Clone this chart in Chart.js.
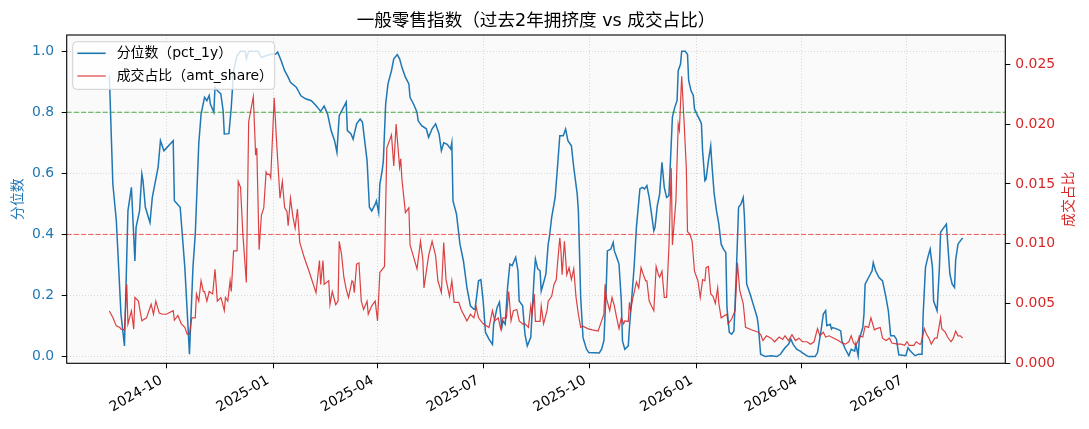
<!DOCTYPE html>
<html>
<head>
<meta charset="utf-8">
<script src="https://cdn.jsdelivr.net/npm/chart.js@4.4.1/dist/chart.umd.min.js"></script>
<style>
html,body{margin:0;padding:0;background:#fff;overflow:hidden}
#wrap{width:1089px;height:429px;position:relative}
</style>
</head>
<body>
<div id="wrap"><canvas id="c" width="1089" height="429"></canvas></div>
<script>
const chartTitle = '一般零售指数（过去2年拥挤度 vs 成交占比）';
const pctLabel = '分位数（pct_1y）';
const amtLabel = '成交占比（amt_share）';
const leftAxisTitle = '分位数';
const rightAxisTitle = '成交占比';

const xTickDates = ['2024-10-01','2025-01-01','2025-04-01','2025-07-01','2025-10-01','2026-01-01','2026-04-01','2026-07-01'];
const xTickLabels = ['2024-10','2025-01','2025-04','2025-07','2025-10','2026-01','2026-04','2026-07'];
const leftTicks = [0, 0.2, 0.4, 0.6, 0.8, 1.0];
const rightTicks = [0, 0.005, 0.010, 0.015, 0.020, 0.025];
const refHigh = 0.8;
const refLow = 0.4;

const pctDates = [
'2024-08-13','2024-08-16','2024-08-19','2024-08-23','2024-08-26','2024-08-29','2024-09-01','2024-09-04','2024-09-05','2024-09-08',
'2024-09-10','2024-09-11','2024-09-13','2024-09-17','2024-09-19','2024-09-24','2024-09-26','2024-09-29','2024-10-07','2024-10-08',
'2024-10-13','2024-10-17','2024-10-21','2024-10-24','2024-10-26','2024-10-29','2024-10-31','2024-11-03','2024-11-05','2024-11-07',
'2024-11-08','2024-11-11','2024-11-12','2024-11-14','2024-11-17','2024-11-19','2024-11-20','2024-11-24','2024-11-26','2024-11-28',
'2024-12-01','2024-12-04','2024-12-08','2024-12-09','2024-12-11','2024-12-19','2024-12-22','2024-12-26','2024-12-30','2025-01-03',
'2025-01-05','2025-01-08','2025-01-11','2025-01-14','2025-01-16','2025-01-21','2025-01-25','2025-01-29','2025-02-03','2025-02-07',
'2025-02-11','2025-02-14','2025-02-17','2025-02-20','2025-02-23','2025-02-25','2025-02-27','2025-03-02','2025-03-05','2025-03-06',
'2025-03-09','2025-03-11','2025-03-12','2025-03-14','2025-03-17','2025-03-19','2025-03-23','2025-03-25','2025-03-27','2025-03-30',
'2025-03-31','2025-04-02','2025-04-03','2025-04-05','2025-04-06','2025-04-08','2025-04-10','2025-04-13','2025-04-15','2025-04-18',
'2025-04-20','2025-04-22','2025-04-25','2025-04-28','2025-04-29','2025-05-02','2025-05-05','2025-05-06','2025-05-09','2025-05-13',
'2025-05-15','2025-05-18','2025-05-21','2025-05-24','2025-05-26','2025-05-28','2025-05-31','2025-06-03','2025-06-04','2025-06-05',
'2025-06-08','2025-06-11','2025-06-14','2025-06-17','2025-06-20','2025-06-23','2025-06-24','2025-06-27','2025-06-29','2025-07-01',
'2025-07-03','2025-07-06','2025-07-09','2025-07-10','2025-07-13','2025-07-15','2025-07-17','2025-07-18','2025-07-20','2025-07-22',
'2025-07-24','2025-07-26','2025-07-29','2025-07-31','2025-08-01','2025-08-04','2025-08-06','2025-08-08','2025-08-11','2025-08-14',
'2025-08-15','2025-08-17','2025-08-19','2025-08-20','2025-08-22','2025-08-24','2025-08-26','2025-08-27','2025-08-29','2025-09-01',
'2025-09-03','2025-09-05','2025-09-08','2025-09-10','2025-09-12','2025-09-15','2025-09-17','2025-09-20','2025-09-21','2025-09-23',
'2025-09-25','2025-09-28','2025-09-30','2025-10-09','2025-10-11','2025-10-13','2025-10-15','2025-10-16','2025-10-19','2025-10-21',
'2025-10-22','2025-10-24','2025-10-26','2025-10-28','2025-10-29','2025-10-31','2025-11-03','2025-11-04','2025-11-06','2025-11-08',
'2025-11-10','2025-11-13','2025-11-15','2025-11-17','2025-11-19','2025-11-21','2025-11-23','2025-11-25','2025-11-26','2025-11-28',
'2025-11-30','2025-12-02','2025-12-04','2025-12-06','2025-12-08','2025-12-11','2025-12-13','2025-12-15','2025-12-16','2025-12-18',
'2025-12-19','2025-12-22','2025-12-24','2025-12-25','2025-12-27','2025-12-29','2025-12-30','2026-01-01','2026-01-04','2026-01-05',
'2026-01-06','2026-01-08','2026-01-09','2026-01-11','2026-01-13','2026-01-14','2026-01-16','2026-01-18','2026-01-20','2026-01-22',
'2026-01-24','2026-01-26','2026-01-27','2026-01-29','2026-01-31','2026-02-02','2026-02-04','2026-02-06','2026-02-08','2026-02-10',
'2026-02-11','2026-02-13','2026-02-16','2026-02-19','2026-02-22','2026-02-23','2026-02-25','2026-03-01','2026-03-06','2026-03-11',
'2026-03-14','2026-03-18','2026-03-21','2026-03-23','2026-03-25','2026-03-28','2026-03-31','2026-04-03','2026-04-07','2026-04-13',
'2026-04-15','2026-04-18','2026-04-20','2026-04-22','2026-04-23','2026-04-26','2026-04-27','2026-04-28','2026-05-02','2026-05-05',
'2026-05-06','2026-05-09','2026-05-12','2026-05-14','2026-05-17','2026-05-18','2026-05-20','2026-05-21','2026-05-24','2026-05-25',
'2026-05-26','2026-05-29','2026-06-01','2026-06-02','2026-06-04','2026-06-07','2026-06-10','2026-06-13','2026-06-15','2026-06-17',
'2026-06-20','2026-06-22','2026-06-24','2026-06-30','2026-07-02','2026-07-04','2026-07-08','2026-07-11','2026-07-14','2026-07-15',
'2026-07-17','2026-07-19','2026-07-21','2026-07-23','2026-07-24','2026-07-27','2026-07-29','2026-07-30','2026-08-01','2026-08-04',
'2026-08-05','2026-08-07','2026-08-09','2026-08-11','2026-08-12','2026-08-14','2026-08-16','2026-08-18'
];
const pctValues = [
0.92,0.565,0.445,0.139,0.035,0.477,0.554,0.313,0.423,0.477,
0.598,0.575,0.489,0.439,0.521,0.62,0.707,0.674,0.707,0.51,
0.489,0.292,0.008,0.292,0.401,0.696,0.794,0.849,0.838,0.855,
0.827,0.80,0.882,0.871,0.86,0.805,0.729,0.73,0.816,0.936,
0.986,1.0,1.0,0.975,1.0,1.0,0.98,0.985,0.99,0.99,
0.997,0.969,0.936,0.915,0.898,0.882,0.854,0.844,0.838,0.822,
0.803,0.82,0.794,0.74,0.707,0.669,0.789,0.811,0.833,0.74,
0.73,0.712,0.73,0.762,0.778,0.768,0.641,0.489,0.477,0.499,
0.51,0.472,0.565,0.609,0.641,0.827,0.893,0.936,0.975,0.989,
0.975,0.947,0.915,0.893,0.849,0.827,0.80,0.772,0.756,0.746,
0.718,0.746,0.762,0.729,0.674,0.70,0.695,0.68,0.70,0.51,
0.467,0.368,0.313,0.226,0.166,0.155,0.155,0.248,0.252,0.182,
0.079,0.057,0.04,0.106,0.161,0.178,0.095,0.117,0.106,0.226,
0.303,0.298,0.325,0.281,0.182,0.166,0.073,0.035,0.063,0.27,
0.319,0.287,0.281,0.215,0.242,0.27,0.368,0.39,0.456,0.521,
0.62,0.723,0.723,0.745,0.707,0.69,0.62,0.532,0.477,0.193,
0.062,0.024,0.013,0.012,0.024,0.052,0.226,0.346,0.352,0.374,
0.346,0.325,0.303,0.182,0.051,0.024,0.035,0.095,0.193,0.292,
0.423,0.549,0.554,0.549,0.56,0.521,0.467,0.412,0.423,0.494,
0.532,0.636,0.554,0.521,0.527,0.784,0.816,0.838,0.936,0.958,
1.0,1.0,0.99,0.904,0.871,0.855,0.811,0.794,0.772,0.762,
0.674,0.576,0.581,0.641,0.69,0.63,0.532,0.477,0.434,0.368,
0.352,0.341,0.161,0.079,0.073,0.084,0.27,0.489,0.499,0.521,
0.461,0.237,0.204,0.166,0.128,0.101,0.0075,0.0,0.003,0.0,
0.0075,0.029,0.04,0.057,0.04,0.024,0.018,0.01,0.0,0.0,
0.013,0.084,0.139,0.15,0.101,0.106,0.09,0.095,0.09,0.084,
0.051,0.024,0.003,0.024,0.018,0.04,0.003,0.057,0.095,0.139,
0.237,0.259,0.281,0.308,0.281,0.259,0.248,0.193,0.15,0.068,
0.068,0.057,0.006,0.003,0.029,0.018,0.003,0.008,0.008,0.139,
0.292,0.325,0.352,0.292,0.182,0.15,0.292,0.407,0.418,0.434,
0.379,0.27,0.237,0.226,0.317,0.368,0.379,0.388
];

const amtDates = [
'2024-08-13','2024-08-16','2024-08-19','2024-08-22','2024-08-23','2024-08-26','2024-08-28','2024-08-29','2024-09-01','2024-09-03',
'2024-09-04','2024-09-07','2024-09-10','2024-09-14','2024-09-18','2024-09-20','2024-09-22','2024-09-25','2024-09-28','2024-10-01',
'2024-10-07','2024-10-08','2024-10-11','2024-10-14','2024-10-17','2024-10-19','2024-10-21','2024-10-23','2024-10-26','2024-10-27',
'2024-10-29','2024-10-31','2024-11-02','2024-11-03','2024-11-05','2024-11-07','2024-11-10','2024-11-12','2024-11-14','2024-11-17',
'2024-11-18','2024-11-20','2024-11-21','2024-11-23','2024-11-25','2024-11-26','2024-11-28','2024-12-01','2024-12-02','2024-12-04',
'2024-12-06','2024-12-09','2024-12-11','2024-12-15','2024-12-17','2024-12-18','2024-12-20','2024-12-22','2024-12-24','2024-12-26',
'2024-12-27','2024-12-29','2024-12-30','2025-01-02','2025-01-04','2025-01-07','2025-01-09','2025-01-11','2025-01-13','2025-01-14',
'2025-01-16','2025-01-18','2025-01-20','2025-01-22','2025-01-24','2025-01-28','2025-02-01','2025-02-07','2025-02-10','2025-02-11',
'2025-02-13','2025-02-14','2025-02-18','2025-02-19','2025-02-21','2025-02-24','2025-02-26','2025-02-27','2025-03-01','2025-03-03',
'2025-03-05','2025-03-07','2025-03-10','2025-03-11','2025-03-12','2025-03-14','2025-03-16','2025-03-18','2025-03-20','2025-03-23',
'2025-03-24','2025-03-27','2025-03-30','2025-04-01','2025-04-03','2025-04-07','2025-04-09','2025-04-13','2025-04-15','2025-04-17',
'2025-04-20','2025-04-21','2025-04-22','2025-04-25','2025-04-28','2025-04-29','2025-05-02','2025-05-05','2025-05-08','2025-05-10',
'2025-05-11','2025-05-15','2025-05-18','2025-05-21','2025-05-23','2025-05-26','2025-05-28','2025-05-30','2025-06-02','2025-06-04',
'2025-06-06','2025-06-10','2025-06-12','2025-06-17','2025-06-20','2025-06-23','2025-06-25','2025-06-27','2025-07-01','2025-07-06',
'2025-07-09','2025-07-11','2025-07-14','2025-07-16','2025-07-18','2025-07-21','2025-07-23','2025-07-25','2025-07-27','2025-07-30',
'2025-08-01','2025-08-04','2025-08-06','2025-08-09','2025-08-11','2025-08-12','2025-08-14','2025-08-15','2025-08-19','2025-08-20',
'2025-08-22','2025-08-25','2025-08-26','2025-08-29','2025-08-31','2025-09-02','2025-09-03','2025-09-05','2025-09-06','2025-09-07',
'2025-09-09','2025-09-11','2025-09-13','2025-09-15','2025-09-17','2025-09-19','2025-09-20','2025-09-21','2025-09-23','2025-09-25',
'2025-09-29','2025-10-03','2025-10-08','2025-10-11','2025-10-13','2025-10-14','2025-10-15','2025-10-18','2025-10-20','2025-10-22',
'2025-10-24','2025-10-26','2025-10-28','2025-10-30','2025-10-31','2025-11-03','2025-11-04','2025-11-05','2025-11-07','2025-11-10',
'2025-11-12','2025-11-14','2025-11-16','2025-11-18','2025-11-19','2025-11-21','2025-11-23','2025-11-25','2025-11-27','2025-11-29',
'2025-11-30','2025-12-02','2025-12-04','2025-12-06','2025-12-08','2025-12-10','2025-12-11','2025-12-14','2025-12-16','2025-12-17',
'2025-12-19','2025-12-21','2025-12-23','2025-12-24','2025-12-26','2025-12-28','2025-12-30','2026-01-02','2026-01-04','2026-01-06',
'2026-01-08','2026-01-09','2026-01-11','2026-01-13','2026-01-15','2026-01-17','2026-01-19','2026-01-20','2026-01-22','2026-01-25',
'2026-01-27','2026-01-28','2026-01-31','2026-02-03','2026-02-05','2026-02-07','2026-02-10','2026-02-12','2026-02-17','2026-02-23',
'2026-02-25','2026-02-27','2026-03-02','2026-03-06','2026-03-09','2026-03-13','2026-03-16','2026-03-18','2026-03-21','2026-03-24',
'2026-03-27','2026-03-30','2026-04-02','2026-04-06','2026-04-09','2026-04-12','2026-04-15','2026-04-17','2026-04-20','2026-04-22',
'2026-04-25','2026-04-29','2026-05-03','2026-05-06','2026-05-09','2026-05-12','2026-05-14','2026-05-16','2026-05-18','2026-05-20',
'2026-05-21','2026-05-24','2026-05-26','2026-05-29','2026-05-31','2026-06-03','2026-06-05','2026-06-08','2026-06-10','2026-06-13',
'2026-06-16','2026-06-18','2026-06-23','2026-06-26','2026-06-29','2026-07-01','2026-07-03','2026-07-07','2026-07-09','2026-07-12',
'2026-07-13','2026-07-16','2026-07-18','2026-07-20','2026-07-22','2026-07-25','2026-07-27','2026-07-30','2026-07-31','2026-08-03',
'2026-08-05','2026-08-08','2026-08-10','2026-08-12','2026-08-14','2026-08-16','2026-08-18'
];
const amtValues = [
0.00438,0.00383,0.00313,0.0030,0.00286,0.0028,0.0066,0.00328,0.00438,0.00286,
0.0055,0.0052,0.00355,0.0038,0.00494,0.0041,0.0052,0.0042,0.0041,0.0041,
0.0044,0.0036,0.0040,0.0033,0.0030,0.00244,0.00244,0.0038,0.0038,0.0058,
0.0052,0.0069,0.006,0.006,0.0052,0.006,0.0058,0.00786,0.0052,0.0055,
0.0052,0.0044,0.0055,0.0052,0.0069,0.006,0.0094,0.0094,0.0152,0.0147,
0.0108,0.00675,0.0202,0.0223,0.0174,0.018,0.0095,0.0124,0.013,0.016,
0.0158,0.0158,0.0155,0.0222,0.0186,0.0138,0.0152,0.013,0.0127,0.0115,
0.0138,0.0123,0.0113,0.0129,0.0101,0.0088,0.0077,0.0059,0.0086,0.0066,
0.0086,0.0066,0.0069,0.0049,0.006,0.0049,0.0052,0.0102,0.0091,0.0072,
0.0062,0.0055,0.0069,0.0068,0.0059,0.0083,0.0084,0.0052,0.0045,0.0052,
0.0041,0.0048,0.0052,0.00355,0.0076,0.0081,0.018,0.0191,0.0165,0.020,
0.0164,0.0171,0.0154,0.0126,0.013,0.0099,0.0089,0.0079,0.0102,0.0087,
0.0063,0.009,0.0102,0.009,0.0069,0.0059,0.0101,0.007,0.0056,0.0069,
0.0051,0.0051,0.0045,0.00355,0.0041,0.0038,0.0047,0.0038,0.0033,0.0030,
0.0044,0.00355,0.0038,0.0029,0.0038,0.0038,0.006,0.00355,0.0044,0.0045,
0.00355,0.0033,0.0033,0.0030,0.0048,0.0041,0.0058,0.0035,0.0035,0.0048,
0.0033,0.0044,0.0052,0.0056,0.0066,0.007,0.0083,0.0105,0.0094,0.0074,
0.0102,0.0074,0.008,0.007,0.0079,0.0055,0.0048,0.0041,0.003,0.0031,
0.0029,0.0028,0.0027,0.00355,0.0041,0.0066,0.0055,0.0044,0.0055,0.0048,
0.0038,0.0029,0.0038,0.0033,0.00355,0.0035,0.0051,0.0044,0.0055,0.0068,
0.0063,0.008,0.0074,0.0069,0.0069,0.0052,0.0048,0.0044,0.0081,0.0074,
0.0072,0.0077,0.0055,0.0055,0.0097,0.0163,0.0099,0.0136,0.020,0.0195,
0.024,0.0203,0.0163,0.011,0.0108,0.0102,0.0077,0.0069,0.0055,0.007,
0.0069,0.008,0.0081,0.0058,0.0056,0.005,0.0063,0.005,0.0038,0.004,
0.0041,0.0033,0.0037,0.0044,0.0084,0.0061,0.005,0.003,0.0028,0.0026,
0.0024,0.0019,0.0023,0.0021,0.0018,0.0022,0.002,0.0023,0.0019,0.0024,
0.0019,0.0021,0.0018,0.0018,0.0016,0.0018,0.0029,0.0023,0.0026,0.0022,
0.0023,0.0021,0.0019,0.0017,0.0016,0.0018,0.0023,0.0017,0.0015,0.0019,
0.0023,0.0022,0.0031,0.003,0.0038,0.0028,0.0029,0.003,0.0021,0.0019,
0.0021,0.0017,0.0016,0.0016,0.0015,0.0018,0.0015,0.0015,0.0018,0.0016,
0.0016,0.0029,0.0024,0.0021,0.0016,0.0021,0.0021,0.0038,0.0029,0.0026,
0.0022,0.0018,0.0021,0.0027,0.0023,0.0023,0.0021
];

// ---- helpers / derived ----
const DAY = 86400000;
const toDay = s => Date.UTC(+s.slice(0, 4), +s.slice(5, 7) - 1, +s.slice(8, 10)) / DAY;
const pctData = pctDates.map((d, i) => ({x: toDay(d), y: pctValues[i]}));
const amtData = amtDates.map((d, i) => ({x: toDay(d), y: amtValues[i]}));
const allX = pctData.concat(amtData).map(p => p.x);
const xFirst = Math.min(...allX), xLast = Math.max(...allX);
const xPad = 0.05 * (xLast - xFirst);
const xMin = xFirst - xPad, xMax = xLast + xPad;

const BLUE = '#1f77b4';
const RED = '#d62728';
const RED_LINE = 'rgba(214,39,40,0.88)';
const FONT = '"DejaVu Sans", "Noto Sans CJK SC", sans-serif';
const tickFont = {family: FONT, size: 13.9};
const gridColor = 'rgba(176,176,176,0.6)';

const decor = {
  id: 'decor',
  beforeDraw(chart) {
    const {ctx, chartArea: a} = chart;
    ctx.save();
    ctx.fillStyle = '#ffffff';
    ctx.fillRect(0, 0, chart.width, chart.height);
    ctx.fillStyle = '#fafafa';
    ctx.fillRect(a.left, a.top, a.right - a.left, a.bottom - a.top);
    ctx.restore();
  },
  afterDraw(chart) {
    const {ctx, chartArea: a} = chart;
    ctx.save();
    // frame
    ctx.strokeStyle = '#000';
    ctx.lineWidth = 1.1;
    ctx.strokeRect(a.left, a.top, a.right - a.left, a.bottom - a.top);
    // title
    ctx.fillStyle = '#000';
    ctx.font = '17.6px ' + FONT;
    ctx.textAlign = 'center';
    ctx.textBaseline = 'middle';
    ctx.fillText(chartTitle, (a.left + a.right) / 2, 21);
    // axis titles
    ctx.font = '13.9px ' + FONT;
    const cy = (a.top + a.bottom) / 2;
    ctx.save();
    ctx.translate(18, cy);
    ctx.rotate(-Math.PI / 2);
    ctx.fillStyle = BLUE;
    ctx.fillText(leftAxisTitle, 0, 0);
    ctx.restore();
    ctx.save();
    ctx.translate(1069, cy);
    ctx.rotate(-Math.PI / 2);
    ctx.fillStyle = RED;
    ctx.fillText(rightAxisTitle, 0, 0);
    ctx.restore();
    // legend
    const bx = a.left + 6, by = a.top + 6.7, bw = 202, bh = 47.6, r = 4;
    ctx.beginPath();
    ctx.moveTo(bx + r, by);
    ctx.lineTo(bx + bw - r, by);
    ctx.quadraticCurveTo(bx + bw, by, bx + bw, by + r);
    ctx.lineTo(bx + bw, by + bh - r);
    ctx.quadraticCurveTo(bx + bw, by + bh, bx + bw - r, by + bh);
    ctx.lineTo(bx + r, by + bh);
    ctx.quadraticCurveTo(bx, by + bh, bx, by + bh - r);
    ctx.lineTo(bx, by + r);
    ctx.quadraticCurveTo(bx, by, bx + r, by);
    ctx.closePath();
    ctx.fillStyle = 'rgba(255,255,255,0.8)';
    ctx.fill();
    ctx.strokeStyle = '#d0d0d0';
    ctx.lineWidth = 1;
    ctx.stroke();
    const entries = [
      {label: pctLabel, color: BLUE, width: 1.6, y: by + 11.6},
      {label: amtLabel, color: RED_LINE, width: 1.2, y: by + 34.3}
    ];
    ctx.textAlign = 'left';
    ctx.textBaseline = 'middle';
    ctx.font = '13.9px ' + FONT;
    entries.forEach(e => {
      ctx.beginPath();
      ctx.strokeStyle = e.color;
      ctx.lineWidth = e.width;
      ctx.moveTo(bx + 4.6, e.y);
      ctx.lineTo(bx + 33, e.y);
      ctx.stroke();
      ctx.fillStyle = '#000';
      ctx.fillText(e.label, bx + 44, e.y);
    });
    ctx.restore();
  }
};

new Chart(document.getElementById('c'), {
  type: 'line',
  data: {
    datasets: [
      {label: pctLabel, data: pctData, yAxisID: 'y', borderColor: BLUE, borderWidth: 1.5,
       pointRadius: 0, tension: 0, fill: false, order: 3},
      {label: 'ref_high', data: [{x: xMin, y: refHigh}, {x: xMax, y: refHigh}], yAxisID: 'y',
       borderColor: 'rgba(44,160,44,0.85)', borderWidth: 1, borderDash: [5, 2.2], pointRadius: 0, order: 2},
      {label: 'ref_low', data: [{x: xMin, y: refLow}, {x: xMax, y: refLow}], yAxisID: 'y',
       borderColor: 'rgba(240,50,50,0.8)', borderWidth: 1, borderDash: [5, 2.2], pointRadius: 0, order: 2},
      {label: amtLabel, data: amtData, yAxisID: 'y2', borderColor: RED_LINE, borderWidth: 1.2,
       pointRadius: 0, tension: 0, fill: false, order: 1}
    ]
  },
  options: {
    responsive: false,
    animation: false,
    events: [],
    layout: {padding: {top: 35, left: 0, right: 0, bottom: 0}},
    plugins: {legend: {display: false}, title: {display: false}, tooltip: {enabled: false}},
    scales: {
      x: {
        type: 'linear', position: 'bottom', min: xMin, max: xMax,
        afterBuildTicks: s => { s.ticks = xTickDates.map(d => ({value: toDay(d)})); },
        afterFit: s => { s.height = 65.7; },
        ticks: {autoSkip: false, maxRotation: 30, minRotation: 30, padding: 4, labelOffset: -5,
                color: '#000', font: tickFont, callback: (v, i) => xTickLabels[i]},
        grid: {color: gridColor, lineWidth: 0.8, tickLength: 5, tickColor: '#000', tickWidth: 1},
        border: {display: false, dash: [1, 2]}
      },
      y: {
        type: 'linear', position: 'left', min: -0.022, max: 1.053,
        afterBuildTicks: s => { s.ticks = leftTicks.map(v => ({value: v})); },
        afterFit: s => { s.width = 66.7; },
        ticks: {color: BLUE, padding: 7.5, font: tickFont, callback: v => v.toFixed(1)},
        grid: {color: gridColor, lineWidth: 0.8, tickLength: 5, tickColor: '#000', tickWidth: 1},
        border: {display: false, dash: [1, 2]}
      },
      y2: {
        type: 'linear', position: 'right', min: 0, max: 0.02745,
        afterBuildTicks: s => { s.ticks = rightTicks.map(v => ({value: v})); },
        afterFit: s => { s.width = 83.7; },
        ticks: {color: RED, padding: 5, font: tickFont, callback: v => v.toFixed(3)},
        grid: {drawOnChartArea: false, tickLength: 5, tickColor: '#000', tickWidth: 1},
        border: {display: false}
      }
    }
  },
  plugins: [decor]
});
</script>
</body>
</html>
